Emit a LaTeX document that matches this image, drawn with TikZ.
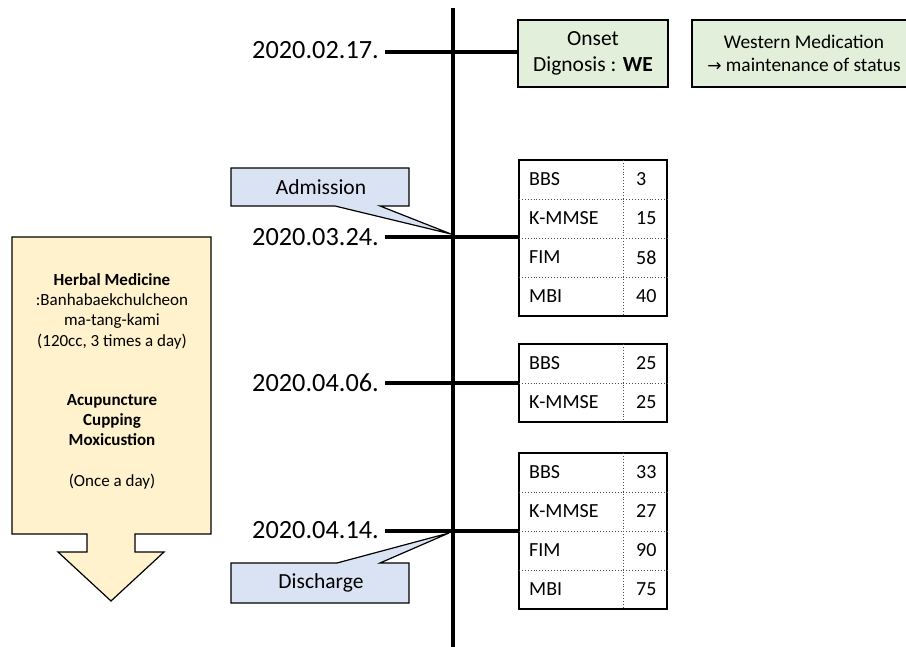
\documentclass[tikz,border=0pt]{standalone}
\usepackage{fontspec}
\setmainfont{Carlito}
\newfontfamily\dejavu{DejaVu Sans}
\definecolor{gfill}{RGB}{226,239,218}
\definecolor{bfill}{RGB}{218,227,243}
\definecolor{yfill}{RGB}{255,242,204}
\begin{document}
\begin{tikzpicture}[x=1pt,y=-1pt,
  tline/.style={line width=4pt},
  greenbox/.style={draw, line width=1.3pt, fill=gfill, align=center, inner sep=0pt},
  datetext/.style={anchor=east, inner sep=1pt, font=\fontsize{26.3}{30}\selectfont},
  tablebox/.style={draw, line width=1.1pt, minimum width=148pt, inner sep=0pt},
  celltext/.style={anchor=west, inner sep=0pt, font=\fontsize{20}{24}\selectfont},
  rowsep/.style={dotted, line width=0.9pt, black!70},
  callout/.style={draw, line width=1.2pt, fill=bfill},
  calltext/.style={font=\fontsize{21.5}{24}\selectfont, inner sep=0pt},
  yeltext/.style={align=center, font=\fontsize{17}{20.3}\selectfont, inner sep=0pt}]
\useasboundingbox (0,0) rectangle (906,647);

% timeline
\coordinate (top) at (453,8);
\coordinate (bot) at (453,647);
\draw[tline] (top) -- (bot);

% top boxes
\node[greenbox, minimum width=150pt, minimum height=67pt, font=\fontsize{21.5}{26}\selectfont] (onset) at (593,53.5) {Onset\\Dignosis : \textbf{WE}};
\node[greenbox, minimum width=224pt, minimum height=67pt, font=\fontsize{19.4}{22.5}\selectfont] (western) at (804,53.5) {Western Medication\\{\dejavu\fontsize{17}{22}\selectfont →} maintenance of status};

% dates
\node[datetext] (d1) at (380,50) {2020.02.17.};
\node[datetext] (d2) at (380,237) {2020.03.24.};
\node[datetext] (d3) at (380,383) {2020.04.06.};
\node[datetext] (d4) at (380,530) {2020.04.14.};
\coordinate (h1) at (385,52);
\coordinate (h2) at (385,237);
\coordinate (h3) at (385,383);
\coordinate (h4) at (385,531);
\draw[tline] (h1) -- (h1 -| onset.west);

% table A
\node[tablebox, minimum height=156pt] (tA) at (593,238) {};
\foreach \lab/\val [count=\i] in {BBS/3,K-MMSE/15,FIM/58,MBI/40} {
  \node[celltext] (tA-l\i) at (529,{160+39*\i-19.5}) {\lab};
  \node[celltext] (tA-v\i) at (636,{160+39*\i-19.5}) {\val};
}
\foreach \i in {1,2,3} \draw[rowsep] (519,{160+39*\i}) -- (667,{160+39*\i});
\draw[rowsep] (623,160) -- (623,316);
\draw[tline] (h2) -- (h2 -| tA.west);

% table B
\node[tablebox, minimum height=78pt] (tB) at (593,383) {};
\foreach \lab/\val [count=\i] in {BBS/25,K-MMSE/25} {
  \node[celltext] (tB-l\i) at (529,{344+39*\i-19.5}) {\lab};
  \node[celltext] (tB-v\i) at (636,{344+39*\i-19.5}) {\val};
}
\draw[rowsep] (519,383) -- (667,383);
\draw[rowsep] (623,344) -- (623,422);
\draw[tline] (h3) -- (h3 -| tB.west);

% table C
\node[tablebox, minimum height=156pt] (tC) at (593,531) {};
\foreach \lab/\val [count=\i] in {BBS/33,K-MMSE/27,FIM/90,MBI/75} {
  \node[celltext] (tC-l\i) at (529,{453+39*\i-19.5}) {\lab};
  \node[celltext] (tC-v\i) at (636,{453+39*\i-19.5}) {\val};
}
\foreach \i in {1,2,3} \draw[rowsep] (519,{453+39*\i}) -- (667,{453+39*\i});
\draw[rowsep] (623,453) -- (623,609);
\draw[tline] (h4) -- (h4 -| tC.west);

% callouts
\draw[callout] (231,168) -- (409,168) -- (409,206) -- (380,206) -- (451,234) -- (335,206) -- (231,206) -- cycle;
\node[calltext] (adm) at (321,187) {Admission};
\draw[callout] (231,563) -- (337,563) -- (449,533) -- (380,563) -- (409,563) -- (409,603) -- (231,603) -- cycle;
\node[calltext] (dis) at (321,583) {Discharge};

% yellow arrow
\draw[line width=1.2pt, fill=yfill] (12,237) -- (211,237) -- (211,534) -- (135,534) -- (135,552) -- (164,552) -- (111,601) -- (58,552) -- (87,552) -- (87,534) -- (12,534) -- cycle;
\node[yeltext] (herb) at (112,311) {\textbf{Herbal Medicine}\\:Banhabaekchulcheon\\ma-tang-kami\\(120cc, 3 times a day)};
\node[yeltext] (acu) at (112,420) {\textbf{Acupuncture}\\\textbf{Cupping}\\\textbf{Moxicustion}};
\node[yeltext] (once) at (112,482) {(Once a day)};
\end{tikzpicture}
\end{document}
